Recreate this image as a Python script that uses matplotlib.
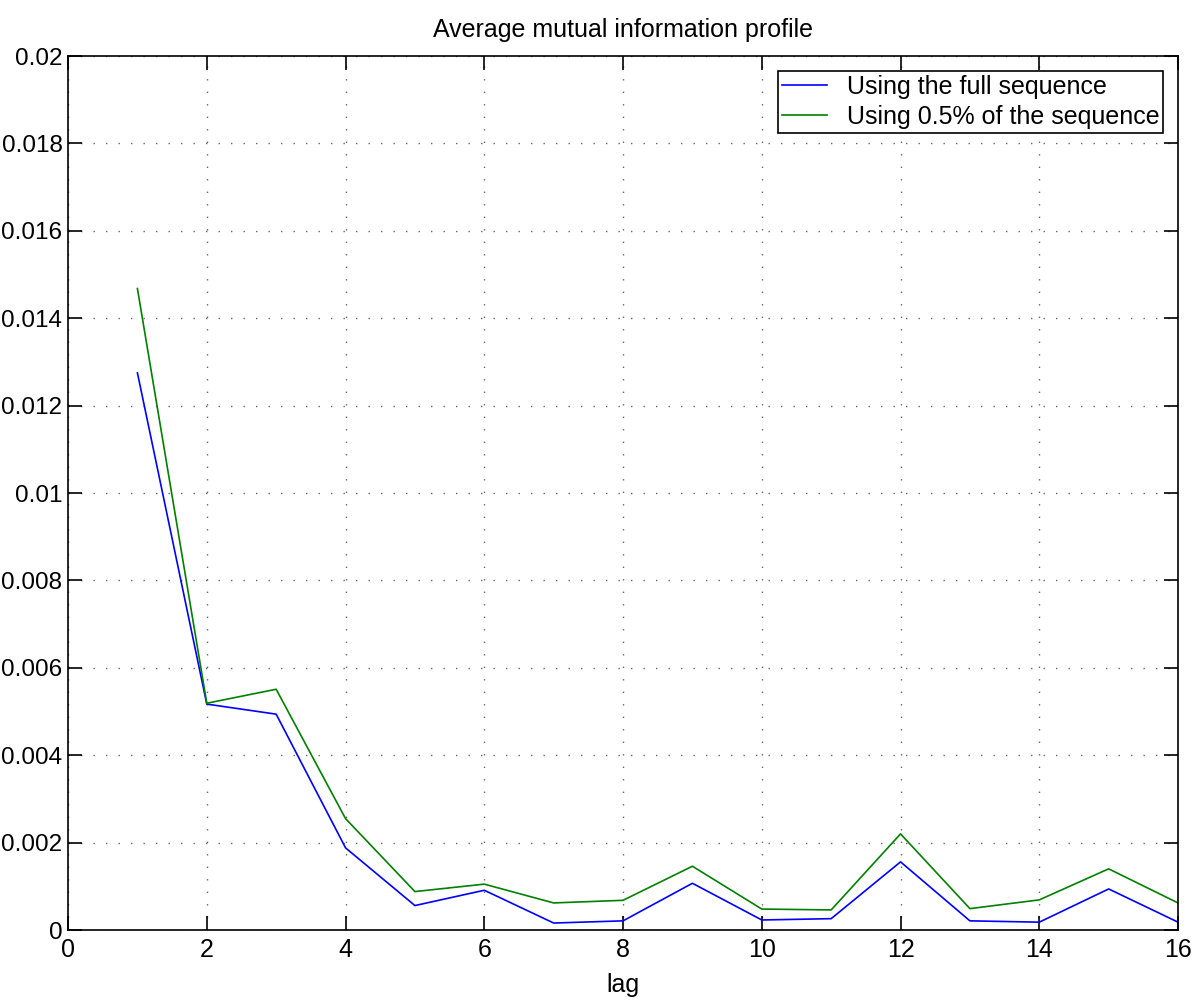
import numpy as np
import matplotlib.pyplot as plt

plt.rcParams["font.family"] = ["Liberation Sans", "DejaVu Sans"]

lag = np.arange(1, 17)
full_seq = [0.01275, 0.00517, 0.00494, 0.00188, 0.00056, 0.00091, 0.00016, 0.00021,
            0.00107, 0.00023, 0.00026, 0.00156, 0.00021, 0.00018, 0.00094, 0.00018]
part_seq = [0.01468, 0.00519, 0.00551, 0.00255, 0.00088, 0.00105, 0.00062, 0.00068,
            0.00146, 0.00048, 0.00046, 0.00220, 0.00049, 0.00069, 0.00140, 0.00062]
labels = ["Using the full sequence", "Using 0.5% of the sequence"]

fig = plt.figure(figsize=(12, 10.01), dpi=100)
ax = fig.add_axes([0.0567, 0.0709, 0.925, 0.8731])

ax.plot(lag, full_seq, color=(0, 0, 1), linewidth=1.2, label=labels[0])
ax.plot(lag, part_seq, color=(0, 0.5, 0), linewidth=1.2, label=labels[1])

ax.set_xlim(0, 16)
ax.set_ylim(0, 0.02)
ax.set_xticks(np.arange(0, 17, 2))
ax.set_yticks(np.arange(0, 0.0201, 0.002))
ax.set_yticklabels(["0", "0.002", "0.004", "0.006", "0.008", "0.01",
                    "0.012", "0.014", "0.016", "0.018", "0.02"])
ax.tick_params(direction="in", length=10, width=1.2, labelsize=18,
               top=True, right=True, pad=6)
ax.tick_params(axis="y", labelsize=17.5, pad=4)
ax.grid(True, linestyle=(0, (1, 8)), color="black", linewidth=1.0, alpha=0.6)
for s in ax.spines.values():
    s.set_linewidth(1.2)

ax.set_xlabel("lag", fontsize=18, labelpad=8)
ax.set_title("Average mutual information profile", fontsize=18, pad=14)

leg = ax.legend(loc="upper right", fontsize=18, fancybox=False, framealpha=1,
                edgecolor="black", handlelength=1.8, borderpad=0.15,
                labelspacing=0.25, borderaxespad=0.6)
leg.get_frame().set_linewidth(1.2)

fig.savefig("out.png", dpi=100)
